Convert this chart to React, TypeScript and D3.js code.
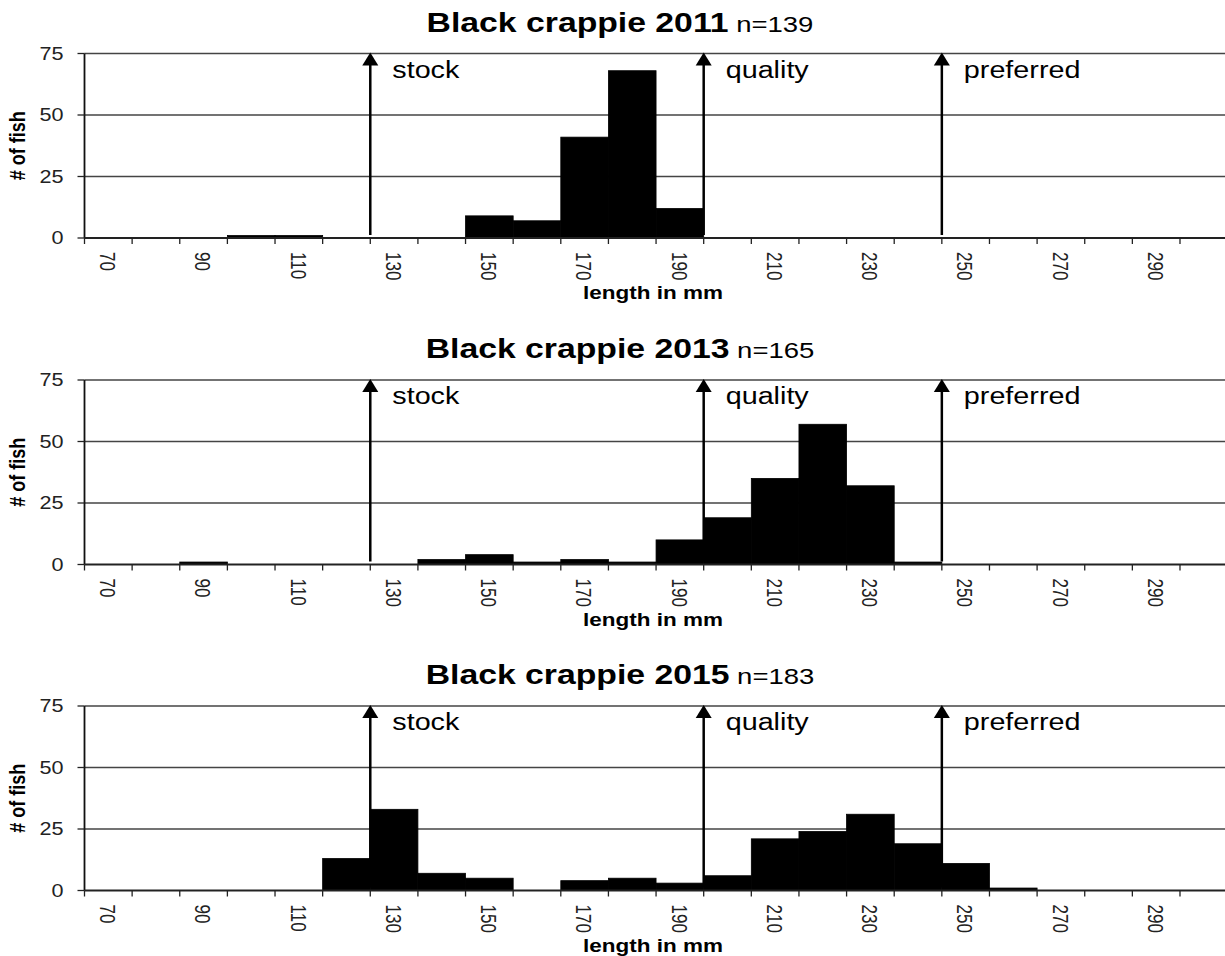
import React from 'react';
import * as d3 from 'd3';

// length classes (mm), 10 mm bins
const lengthBins = ['70', '80', '90', '100', '110', '120', '130', '140', '150', '160', '170', '180',
    '190', '200', '210', '220', '230', '240', '250', '260', '270', '280', '290', '300'];

const counts2011 = [0, 0, 0, 1, 1, 0, 0, 0, 9, 7, 41, 68, 12, 0, 0, 0, 0, 0, 0, 0, 0, 0, 0, 0];
const counts2013 = [0, 0, 1, 0, 0, 0, 0, 2, 4, 1, 2, 1, 10, 19, 35, 57, 32, 1, 0, 0, 0, 0, 0, 0];
const counts2015 = [0, 0, 0, 0, 0, 13, 33, 7, 5, 0, 4, 5, 3, 6, 21, 24, 31, 19, 11, 1, 0, 0, 0, 0];

const years = ['2011', '2013', '2015'];
const sampleSizes = [139, 165, 183];
const yTicks = [0, 25, 50, 75];

// incremental relative stock density breakpoints for black crappie
const markerNames = ['stock', 'quality', 'preferred'];
const markerBins = ['130', '200', '250'];

const FONT = '"Liberation Sans", Arial, sans-serif';
const SX = 1.25; // the reference text is drawn wider than normal

const panelTops = [53.5, 380, 706];
const plotH = 184.5;
const x = d3.scaleBand().domain(lengthBins).range([84.5, 84.5 + 24 * 47.63]).paddingInner(0).paddingOuter(0);

const Panel = ({ top, counts, year, n }) => {
    const y = d3.scaleLinear().domain([0, 75]).range([top + plotH, top]);
    const bw = x.bandwidth();
    const x0 = x.range()[0];
    const x1 = x.range()[1];
    const base = y(0);
    return (
        <g>
            {/* title */}
            <text transform={`translate(620,${top - 22}) scale(${SX},1)`} textAnchor="middle" fontFamily={FONT} fill="#000">
                <tspan fontWeight="bold" fontSize={27}>{`Black crappie ${year}`}</tspan>
                <tspan fontSize={22}>{` n=${n}`}</tspan>
            </text>

            {/* grid lines */}
            {yTicks.filter(t => t > 0).map(t => (
                <line key={t} x1={x0} x2={x1} y1={y(t)} y2={y(t)} stroke="#444" strokeWidth={1.3} />
            ))}

            {/* bars */}
            {counts.map((c, i) => c > 0 && (
                <rect key={i} x={x(lengthBins[i])} y={y(c)} width={bw} height={base - y(c)}
                    fill="#000" stroke="#000" strokeWidth={0.8} />
            ))}

            {/* axes */}
            <line x1={x0} x2={x0} y1={y(75)} y2={base} stroke="#111" strokeWidth={1.8} />
            <line x1={x0} x2={x1} y1={base} y2={base} stroke="#222" strokeWidth={1.8} />
            {yTicks.map(t => (
                <g key={t}>
                    <line x1={x0 - 7} x2={x0} y1={y(t)} y2={y(t)} stroke="#222" strokeWidth={1.3} />
                    <text transform={`translate(${x0 - 21},${y(t)}) scale(1.2,1)`} dy="0.36em" textAnchor="end"
                        fontFamily={FONT} fontSize={18} fill="#222">{t}</text>
                </g>
            ))}
            {lengthBins.map((b, i) => (
                <g key={b}>
                    <line x1={x(b)} x2={x(b)} y1={base} y2={base + 6} stroke="#222" strokeWidth={1.3} />
                    {i % 2 === 0 && (
                        <text transform={`translate(${x(b) + bw / 2},${base + 14}) scale(1.35,1) rotate(90)`} dy="0.36em"
                            fontFamily={FONT} fontSize={17} fill="#222">{b}</text>
                    )}
                </g>
            ))}

            {/* axis titles */}
            <text transform={`translate(25,${top + plotH / 2}) scale(${SX},1) rotate(-90)`} textAnchor="middle"
                fontFamily={FONT} fontWeight="bold" fontSize={18} fill="#000"># of fish</text>
            <text transform={`translate(653,${base + 61}) scale(${SX},1)`} textAnchor="middle"
                fontFamily={FONT} fontWeight="bold" fontSize={18} fill="#000">length in mm</text>

            {/* size category arrows */}
            {markerBins.map((b, i) => {
                const mx = x(b);
                return (
                    <g key={b}>
                        <line x1={mx} x2={mx} y1={base - 3} y2={top + 10} stroke="#000" strokeWidth={2.5} />
                        <path d={`M${mx},${top - 1} L${mx - 8},${top + 12} L${mx + 8},${top + 12} Z`} fill="#000" />
                        <text transform={`translate(${mx + 22},${top + 24}) scale(${SX},1)`} fontFamily={FONT}
                            fontSize={23} fill="#000">{markerNames[i]}</text>
                    </g>
                );
            })}
        </g>
    );
};

export default function App() {
    const data = [counts2011, counts2013, counts2015];
    return (
        <svg width={1225} height={956} style={{ position: 'absolute', left: 0, top: 0, background: '#fff' }}>
            <rect width={1225} height={956} fill="#fff" />
            {years.map((yr, i) => (
                <Panel key={yr} top={panelTops[i]} counts={data[i]} year={yr} n={sampleSizes[i]} />
            ))}
        </svg>
    );
}
